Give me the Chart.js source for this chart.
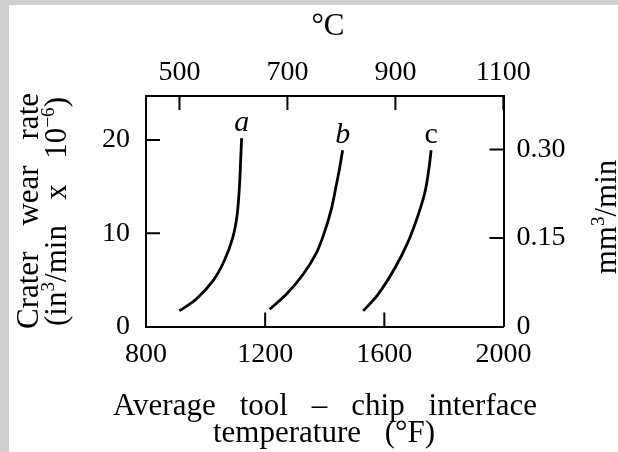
<!DOCTYPE html>
<html>
<head>
<meta charset="utf-8">
<script src="https://cdn.jsdelivr.net/npm/chart.js@4.4.1/dist/chart.umd.min.js"></script>
<style>
html,body{margin:0;padding:0;background:#fff}
#wrap{position:relative;width:618px;height:452px;overflow:hidden;background:#fff}
#edge{position:absolute;left:0;top:0;width:618px;height:452px;box-sizing:border-box;border-left:9px solid #cfcfcf;border-top:5px solid #cfcfcf}
canvas{position:absolute;left:0;top:0}
</style>
</head>
<body>
<div id="wrap"><div id="edge"></div><canvas id="chart" width="618" height="452"></canvas></div>
<script>
// curves: temperature (°F) vs crater wear rate (in^3/min x 1e-6)
const tempA = [912, 968, 1024, 1062, 1091, 1106, 1114, 1118, 1121]
const wearA = [1.67, 2.92, 4.87, 7.0, 9.5, 12.0, 15.2, 18.0, 20.2]
const tempB = [1215, 1271, 1327, 1372, 1400, 1423, 1439, 1450, 1460]
const wearB = [1.85, 3.45, 5.58, 7.9, 10.2, 12.7, 15.2, 17.0, 18.9]
const tempC = [1529, 1579, 1636, 1680, 1714, 1737, 1750, 1757]
const wearC = [1.67, 3.45, 6.3, 9.1, 12.0, 14.5, 17.0, 18.9]
const curveNames = ['a', 'b', 'c']

// axis ticks
const fTicks = [800, 1200, 1600, 2000]
const cTicks = [500, 700, 900, 1100]
const wearTicks = [0, 10, 20]
const mmTicks = [0, 0.15, 0.30]

const SERIF = "'Liberation Serif', 'Times New Roman', serif"
const tickFont = {family: SERIF, size: 28}
const TS = 31 // title size

function toPts(xs, ys){ return xs.map((x, i) => ({x, y: ys[i]})) }
function curve(label, xs, ys){
  return {label, data: toPts(xs, ys), xAxisID: 'x', yAxisID: 'y', showLine: true,
    borderColor: '#000', borderWidth: 2.8, pointRadius: 0, tension: 0.35, fill: false}
}
function fixTicks(vals){ return s => { s.ticks = vals.map(v => ({value: v})) } }
function tickOpts(extra){
  return Object.assign({font: tickFont, color: '#000', autoSkip: false, maxRotation: 0, callback: v => String(v)}, extra)
}
function axisOpts(extra){
  return Object.assign({
    type: 'linear',
    grid: {drawOnChartArea: false, drawTicks: false},
    border: {display: true, color: '#000', width: 2}
  }, extra)
}

// text with superscripts: segs = [[text, isSup], ...]
function richWidth(ctx, segs, size){
  let w = 0
  for(const [t, sup] of segs){
    ctx.font = (sup ? size*0.62 : size) + 'px ' + SERIF
    w += ctx.measureText(t).width
  }
  return w
}
function drawRich(ctx, segs, x, y, size){
  for(const [t, sup] of segs){
    ctx.font = (sup ? size*0.62 : size) + 'px ' + SERIF
    ctx.fillText(t, x, sup ? y - size*0.38 : y)
    x += ctx.measureText(t).width
  }
}
function justify(ctx, words, from, to, y, size){
  const ws = words.map(w => richWidth(ctx, w, size))
  const total = ws.reduce((a, b) => a + b, 0)
  const gap = words.length > 1 ? (to - from - total)/(words.length - 1) : 0
  let x = from
  words.forEach((w, i) => { drawRich(ctx, w, x, y, size); x += ws[i] + gap })
}

const frame = {
  id: 'frame',
  afterDraw(chart){
    const ctx = chart.ctx
    const {x, x2, y, y2} = chart.scales
    const a = chart.chartArea
    const TL = 14
    ctx.save()
    ctx.strokeStyle = '#000'
    ctx.lineWidth = 2
    ctx.beginPath()
    fTicks.forEach(v => { if(v > x.min && v < x.max){ const p = x.getPixelForValue(v); ctx.moveTo(p, a.bottom); ctx.lineTo(p, a.bottom - TL) } })
    cTicks.forEach(v => { if(v > x2.min && v < x2.max){ const p = x2.getPixelForValue(v); ctx.moveTo(p, a.top); ctx.lineTo(p, a.top + TL) } })
    wearTicks.forEach(v => { if(v > y.min && v < y.max){ const p = y.getPixelForValue(v); ctx.moveTo(a.left, p); ctx.lineTo(a.left + TL, p) } })
    mmTicks.forEach(v => { if(v > y2.min && v < y2.max){ const p = y2.getPixelForValue(v); ctx.moveTo(a.right, p); ctx.lineTo(a.right - TL, p) } })
    ctx.stroke()

    // curve letters above the top end of each curve
    ctx.fillStyle = '#000'
    ctx.textAlign = 'center'
    ctx.textBaseline = 'alphabetic'
    chart.data.datasets.forEach((ds, i) => {
      const last = ds.data[ds.data.length - 1]
      ctx.font = (i < 2 ? 'italic ' : '') + '30px ' + SERIF
      ctx.fillText(curveNames[i], x.getPixelForValue(last.x), y.getPixelForValue(last.y) - 7)
    })

    // titles
    ctx.textAlign = 'left'
    ctx.font = TS + 'px ' + SERIF
    const cw = ctx.measureText('°C').width
    ctx.fillText('°C', 328 - cw/2, 35)

    justify(ctx, [[['Average']], [['tool']], [['–']], [['chip']], [['interface']]], 113, 537, 415, TS)
    justify(ctx, [[['temperature']], [['(°F)']]], 213, 435, 442, TS)

    ctx.save()
    ctx.rotate(-Math.PI/2)
    justify(ctx, [[['Crater']], [['wear']], [['rate']]], -329, -93, 38, TS)
    justify(ctx, [[['(in'], ['3', true], ['/min']], [['x']], [['10'], ['−6', true], [')']]], -326, -97, 66, TS)
    const mm = [['mm'], ['3', true], ['/min']]
    const mw = richWidth(ctx, mm, TS)
    drawRich(ctx, mm, -217 - mw/2, 616, TS)
    ctx.restore()
    ctx.restore()
  }
}

new Chart(document.getElementById('chart'), {
  type: 'scatter',
  data: {datasets: [curve('a', tempA, wearA), curve('b', tempB, wearB), curve('c', tempC, wearC)]},
  options: {
    responsive: false,
    animation: false,
    devicePixelRatio: 1,
    layout: {padding: {left: 86, right: 34.5, top: 46, bottom: 75.5}},
    plugins: {legend: {display: false}, tooltip: {enabled: false}},
    scales: {
      x: axisOpts({position: 'bottom', min: 800, max: 2000, afterBuildTicks: fixTicks(fTicks),
        afterFit: s => { s.height = 50 }, ticks: tickOpts({padding: 11})}),
      x2: axisOpts({axis: 'x', position: 'top', min: 438, max: 1100.3, afterBuildTicks: fixTicks(cTicks),
        afterFit: s => { s.height = 50 }, ticks: tickOpts({padding: 7})}),
      y: axisOpts({position: 'left', min: 0, max: 24.72, afterBuildTicks: fixTicks(wearTicks),
        afterFit: s => { s.width = 60 }, ticks: tickOpts({padding: 16})}),
      y2: axisOpts({axis: 'y', position: 'right', min: 0, max: 0.3907, afterBuildTicks: fixTicks(mmTicks),
        afterFit: s => { s.width = 80 },
        ticks: tickOpts({padding: 13, callback: v => v === 0 ? '0' : v.toFixed(2)})})
    }
  },
  plugins: [frame]
})
</script>
</body>
</html>
